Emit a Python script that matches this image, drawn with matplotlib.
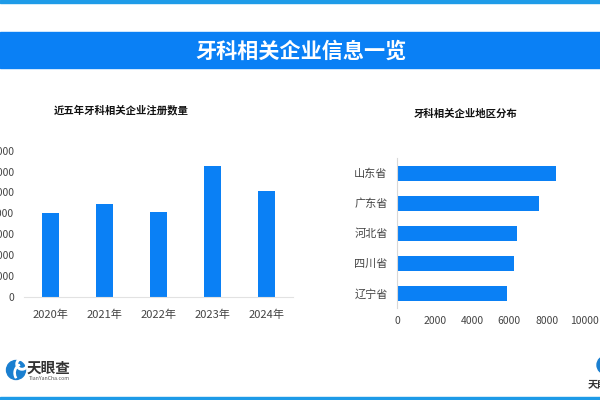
import matplotlib
matplotlib.use("Agg")
import matplotlib.pyplot as plt
from matplotlib.patches import Circle, Rectangle, Wedge

plt.rcParams['font.family'] = ['Noto Sans CJK SC', 'DejaVu Sans']

years = ["2020年", "2021年", "2022年", "2023年", "2024年"]
counts = [4000, 4450, 4070, 6270, 5070]
count_ticks = [0, 1000, 2000, 3000, 4000, 5000, 6000, 7000]

provinces = ["辽宁省", "四川省", "河北省", "广东省", "山东省"]
companies = [5860, 6250, 6410, 7590, 8480]
company_ticks = [0, 2000, 4000, 6000, 8000, 10000]

BLUE = "#0a80f5"
W, H = 600, 400


def box(left, top, right, bottom):
    # pixel box to figure fractions
    return [left / W, 1 - bottom / H, (right - left) / W, (bottom - top) / H]


fig = plt.figure(figsize=(6, 4), dpi=100)
bg = fig.add_axes([0, 0, 1, 1])
bg.set_xlim(0, W)
bg.set_ylim(H, 0)
bg.axis("off")

bg.add_patch(Rectangle((0, 0), W, 3, color="#1e9be8"))
bg.add_patch(Rectangle((0, 396.5), W, 3.5, color="#1e9be8"))
bg.add_patch(Rectangle((0, 32), W, 36, color=BLUE))
bg.text(301.5, 51, "牙科相关企业信息一览", color="white", fontsize=15.2,
        fontweight="bold", ha="center", va="center")
bg.text(121, 110, "近五年牙科相关企业注册数量", color="#111111", fontsize=7.5,
        fontweight="bold", ha="center", va="center")
bg.text(466, 114, "牙科相关企业地区分布", color="#111111", fontsize=7.5,
        fontweight="bold", ha="center", va="center")

# logo left
bg.add_patch(Circle((16, 370), 9.5, color="#1a7fd0"))
bg.add_patch(Wedge((22, 364), 6, 0, 360, width=1.5, color="white"))
bg.add_patch(Wedge((24, 373), 10, 150, 240, width=1.2, color="white"))
bg.text(49, 368, "天眼查", color="#333333", fontsize=10.5, fontweight="bold",
        ha="center", va="center")
bg.text(49, 378.5, "TianYanCha.com", color="#555555", fontsize=3.8,
        ha="center", va="center")

# logo right, cut by the edge
bg.add_patch(Wedge((606, 365), 9, 90, 270, width=4, color="#1a7fd0"))
bg.text(587.5, 384, "天眼查", color="#333333", fontsize=7.5, fontweight="bold",
        ha="left", va="center")

left = fig.add_axes(box(24, 150.7, 293, 297))
left.bar(years, counts, width=0.315, color=BLUE)
left.set_xlim(-0.5, 4.5)
left.set_ylim(0, 7000)
left.set_yticks(count_ticks)
left.set_yticklabels([str(v) for v in count_ticks])
left.tick_params(axis="both", length=0, labelsize=7.5, labelcolor="#444444")
left.tick_params(axis="x", pad=9, labelsize=8)
left.tick_params(axis="y", pad=7)
for side in ["top", "right", "left"]:
    left.spines[side].set_visible(False)
left.spines["bottom"].set_color("#e2e2e2")

right = fig.add_axes(box(397.3, 158, 584, 308))
right.barh(provinces, companies, height=0.5, color=BLUE)
right.set_ylim(-0.5, 4.5)
right.set_xlim(0, 10000)
right.set_xticks(company_ticks)
right.set_xticklabels([str(v) for v in company_ticks])
right.tick_params(axis="both", length=0, labelcolor="#444444")
right.tick_params(axis="x", labelsize=7.5, pad=5.5)
right.tick_params(axis="y", labelsize=8, pad=7)
for side in ["top", "right", "bottom"]:
    right.spines[side].set_visible(False)
right.spines["left"].set_color("#d8d8d8")

fig.savefig("out.png", dpi=100)
